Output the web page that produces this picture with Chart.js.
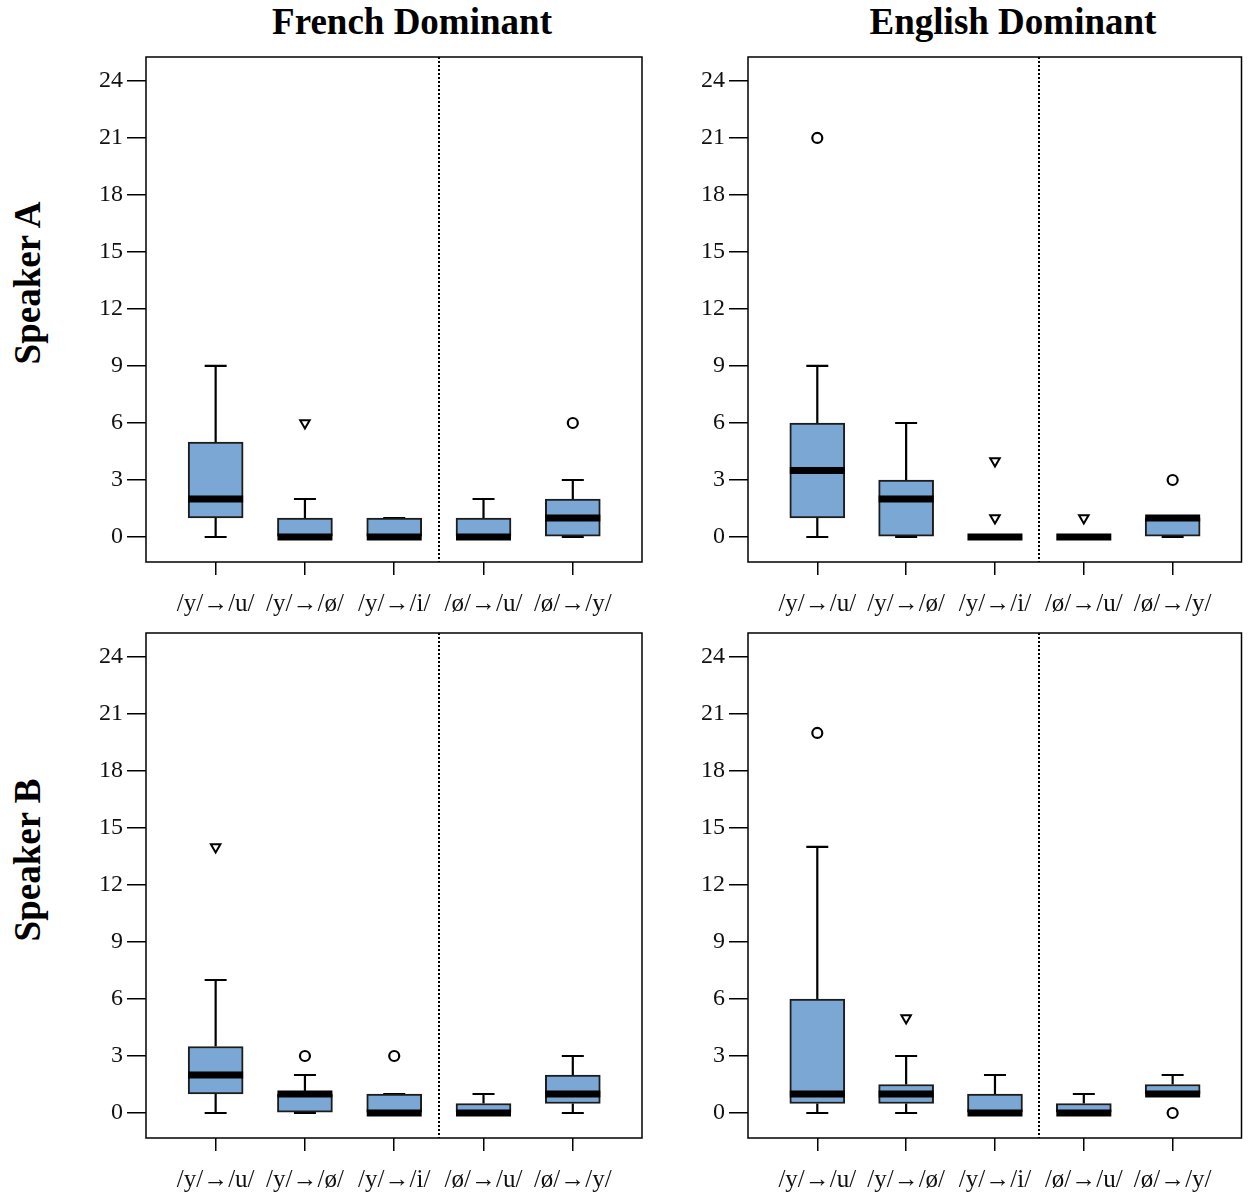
<!DOCTYPE html>
<html>
<head>
<meta charset="utf-8">
<script src="https://cdn.jsdelivr.net/npm/chart.js@4.4.1/dist/chart.umd.min.js"></script>
<style>
  html, body { margin: 0; padding: 0; background: #ffffff; }
  body { width: 1249px; height: 1201px; position: relative; overflow: hidden; font-family: 'Liberation Serif', serif; }
  canvas { position: absolute; }
  .title { position: absolute; font-weight: bold; font-size: 37px; line-height: 37px; color: #000; white-space: nowrap; transform: translateX(-50%); }
  .rowlab { position: absolute; font-weight: bold; font-size: 37px; line-height: 37px; color: #000; white-space: nowrap; transform: translate(-50%, -50%) rotate(-90deg); }
</style>
</head>
<body>
<div class="title" style="left:412px; top:3px;">French Dominant</div>
<div class="title" style="left:1013px; top:3px;">English Dominant</div>
<div class="rowlab" style="left:27px; top:283px;">Speaker A</div>
<div class="rowlab" style="left:27px; top:860px;">Speaker B</div>

<canvas id="frA" width="590" height="588" style="left:60px; top:37px;"></canvas>
<canvas id="enA" width="587" height="588" style="left:662px; top:37px;"></canvas>
<canvas id="frB" width="590" height="588" style="left:60px; top:613px;"></canvas>
<canvas id="enB" width="587" height="588" style="left:662px; top:613px;"></canvas>

<script>
// ---------- data ----------
const categories = ['/y/→/u/', '/y/→/ø/', '/y/→/i/', '/ø/→/u/', '/ø/→/y/'];
const yTickValues = [0, 3, 6, 9, 12, 15, 18, 21, 24];
const dividerAt = 2.5;

// French Dominant, Speaker A
const frA_min = [0, 0, 0, 0, 0];
const frA_q1  = [1, 0, 0, 0, 0];
const frA_med = [2, 0, 0, 0, 1];
const frA_q3  = [5, 1, 1, 1, 2];
const frA_max = [9, 2, 1, 2, 3];
const frA_circX = [4];
const frA_circY = [6];
const frA_triX = [1];
const frA_triY = [6];

// English Dominant, Speaker A
const enA_min = [0, 0, 0, 0, 0];
const enA_q1  = [1, 0, 0, 0, 0];
const enA_med = [3.5, 2, 0, 0, 1];
const enA_q3  = [6, 3, 0, 0, 1];
const enA_max = [9, 6, 0, 0, 1];
const enA_circX = [0, 4];
const enA_circY = [21, 3];
const enA_triX = [2, 2, 3];
const enA_triY = [1, 4, 1];

// French Dominant, Speaker B
const frB_min = [0, 0, 0, 0, 0];
const frB_q1  = [1, 0, 0, 0, 0.5];
const frB_med = [2, 1, 0, 0, 1];
const frB_q3  = [3.5, 1, 1, 0.5, 2];
const frB_max = [7, 2, 1, 1, 3];
const frB_circX = [1, 2];
const frB_circY = [3, 3];
const frB_triX = [0];
const frB_triY = [14];

// English Dominant, Speaker B
const enB_min = [0, 0, 0, 0, 1];
const enB_q1  = [0.5, 0.5, 0, 0, 1];
const enB_med = [1, 1, 0, 0, 1];
const enB_q3  = [6, 1.5, 1, 0.5, 1.5];
const enB_max = [14, 3, 2, 1, 2];
const enB_circX = [0, 4];
const enB_circY = [20, 0];
const enB_triX = [1];
const enB_triY = [5];

// ---------- styling ----------
const BOX_FILL = '#7ba7d4';
const BOX_EDGE = '#1c1c1c';
const BOX_W = 55;
const CAP_W = 22;
const MED_H = 7;

Chart.defaults.font.family = "'Liberation Serif', 'Times New Roman', serif";
Chart.defaults.color = '#111';

const boxplotPlugin = {
  id: 'boxplot',
  beforeDatasetsDraw(chart) {
    const { ctx, chartArea, scales: { x, y } } = chart;
    const s = chart.options.plugins.boxplot;
    ctx.save();
    // dotted divider
    const xd = Math.round(x.getPixelForValue(dividerAt));
    ctx.strokeStyle = '#000';
    ctx.lineWidth = 2;
    ctx.setLineDash([2, 2]);
    ctx.beginPath();
    ctx.moveTo(xd, chartArea.top);
    ctx.lineTo(xd, chartArea.bottom);
    ctx.stroke();
    ctx.setLineDash([]);
    // whiskers + staples
    ctx.lineWidth = 2.2;
    ctx.strokeStyle = '#000';
    s.min.forEach((mn, i) => {
      const px = x.getPixelForValue(i);
      const yMin = y.getPixelForValue(mn);
      const yQ1 = y.getPixelForValue(s.q1[i]);
      const yQ3 = y.getPixelForValue(s.q3[i]);
      const yMax = y.getPixelForValue(s.max[i]);
      ctx.beginPath();
      ctx.moveTo(px, yQ3); ctx.lineTo(px, yMax);
      ctx.moveTo(px, yQ1); ctx.lineTo(px, yMin);
      ctx.moveTo(px - CAP_W / 2, yMax); ctx.lineTo(px + CAP_W / 2, yMax);
      ctx.moveTo(px - CAP_W / 2, yMin); ctx.lineTo(px + CAP_W / 2, yMin);
      ctx.stroke();
    });
    ctx.restore();
  },
  afterDatasetsDraw(chart) {
    const { ctx, chartArea, scales: { x, y } } = chart;
    const s = chart.options.plugins.boxplot;
    ctx.save();
    // medians
    ctx.fillStyle = '#000';
    s.med.forEach((m, i) => {
      const px = x.getPixelForValue(i);
      const py = y.getPixelForValue(m);
      ctx.fillRect(px - BOX_W / 2, py - MED_H / 2, BOX_W, MED_H);
    });
    // frame
    ctx.strokeStyle = '#000';
    ctx.lineWidth = 1.5;
    ctx.strokeRect(chartArea.left, chartArea.top, chartArea.right - chartArea.left, chartArea.bottom - chartArea.top);
    ctx.restore();
  }
};

function makePanel(id, mn, q1, med, q3, mx, cx, cy, tx, ty, padRight) {
  const boxes = q1.map((v, i) => ({ x: i, y: [v, q3[i]] }));
  const circles = cx.map((v, i) => ({ x: v, y: cy[i] }));
  const tris = tx.map((v, i) => ({ x: v, y: ty[i] }));
  new Chart(document.getElementById(id), {
    type: 'bar',
    data: {
      datasets: [
        {
          type: 'bar', data: boxes,
          backgroundColor: BOX_FILL, borderColor: BOX_EDGE, borderWidth: 2,
          borderSkipped: false, barThickness: BOX_W, order: 2
        },
        {
          type: 'line', data: circles, showLine: false,
          pointStyle: 'circle', pointRadius: 5, pointBorderWidth: 2.2,
          pointBorderColor: '#000', pointBackgroundColor: '#fff', order: 1
        },
        {
          type: 'line', data: tris, showLine: false,
          pointStyle: 'triangle', pointRotation: 180, pointRadius: 5.5, pointBorderWidth: 2,
          pointBorderColor: '#000', pointBackgroundColor: '#fff', order: 1
        }
      ]
    },
    options: {
      responsive: false,
      animation: false,
      devicePixelRatio: 1,
      layout: { padding: { top: 20, right: padRight, left: 0, bottom: 0 } },
      plugins: {
        legend: { display: false },
        tooltip: { enabled: false },
        boxplot: { min: mn, q1: q1, med: med, q3: q3, max: mx }
      },
      scales: {
        x: {
          type: 'linear', min: -0.78, max: 4.775, offset: false,
          afterBuildTicks: (sc) => { sc.ticks = categories.map((c, i) => ({ value: i })); },
          afterFit: (sc) => { sc.height = 63; },
          ticks: {
            callback: (v) => categories[Math.round(v)] ?? '',
            font: { size: 25 }, color: '#111', padding: 14, maxRotation: 0, autoSkip: false
          },
          grid: { offset: false, drawOnChartArea: false, drawTicks: true, tickLength: 13, color: '#000', lineWidth: 1.5 },
          border: { display: false }
        },
        y: {
          type: 'linear', min: -1.316, max: 25.26,
          afterBuildTicks: (sc) => { sc.ticks = yTickValues.map(v => ({ value: v })); },
          afterFit: (sc) => { sc.width = 86; },
          ticks: { font: { size: 24 }, color: '#111', padding: 4 },
          grid: { drawOnChartArea: false, drawTicks: true, tickLength: 19, color: '#000', lineWidth: 1.5 },
          border: { display: false }
        }
      }
    },
    plugins: [boxplotPlugin]
  });
}

makePanel('frA', frA_min, frA_q1, frA_med, frA_q3, frA_max, frA_circX, frA_circY, frA_triX, frA_triY, 8);
makePanel('enA', enA_min, enA_q1, enA_med, enA_q3, enA_max, enA_circX, enA_circY, enA_triX, enA_triY, 5);
makePanel('frB', frB_min, frB_q1, frB_med, frB_q3, frB_max, frB_circX, frB_circY, frB_triX, frB_triY, 8);
makePanel('enB', enB_min, enB_q1, enB_med, enB_q3, enB_max, enB_circX, enB_circY, enB_triX, enB_triY, 5);
</script>
</body>
</html>
